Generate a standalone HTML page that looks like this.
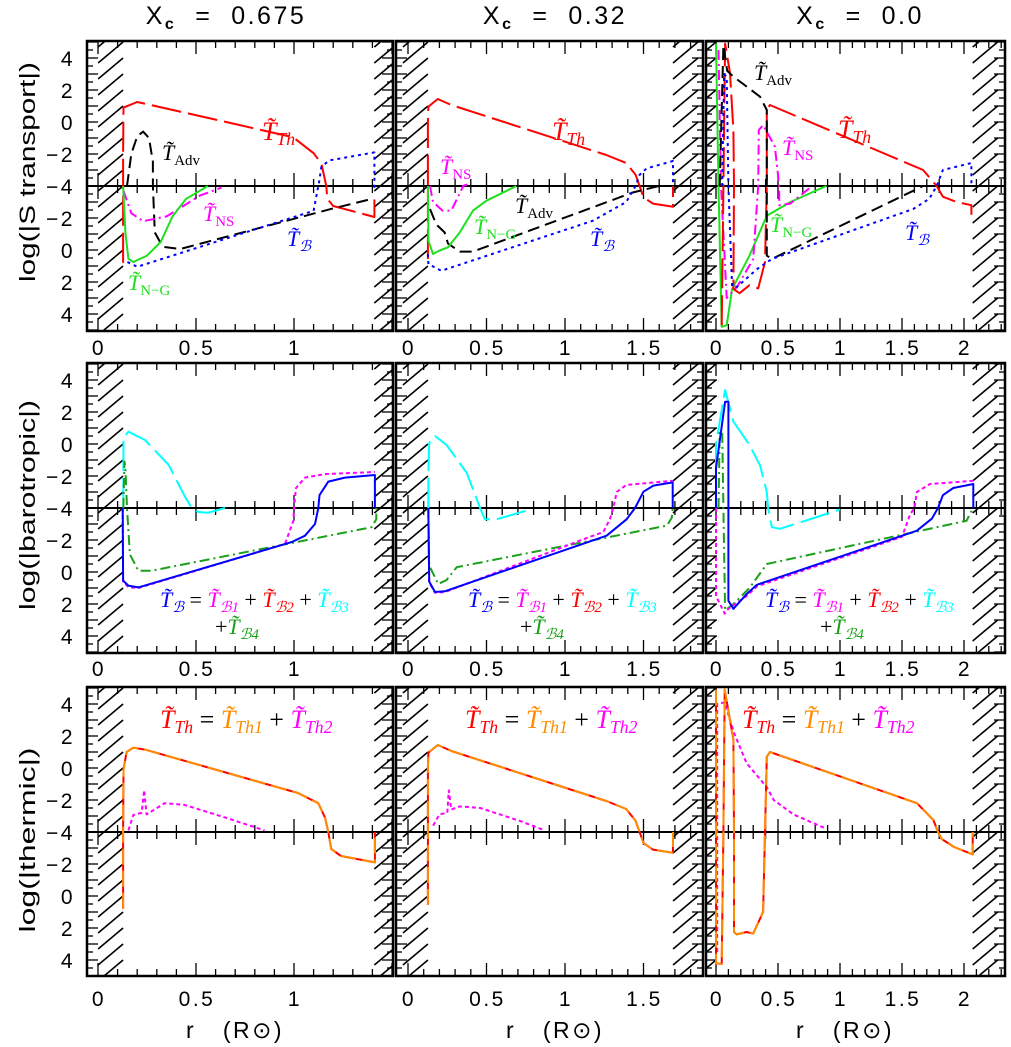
<!DOCTYPE html>
<html><head><meta charset="utf-8">
<style>
html,body{margin:0;padding:0;background:#fff;}
svg{display:block;}
text{font-family:"Liberation Sans",sans-serif;}
.lab{font-family:"Liberation Serif",serif;}
.num{letter-spacing:2.5px;}
</style></head>
<body>
<svg id="chart" width="1011" height="1047" viewBox="0 0 1011 1047" xmlns="http://www.w3.org/2000/svg">
<g id="frames"></g>
<g id="curves"></g>
<g id="texts"></g>
</svg>
<script>
// ---------- data: [r, log|value|, sign(+1 upper / -1 lower)] ----------
const th1=[[0.128,0.8,-1],[0.128,-4,-1],[0.128,-4,1],[0.128,-1.9,1],[0.13,0.9,1],[0.2,1.25,1],[0.6,0.15,1],[0.995,-0.95,1],[1.1,-1.95,1],[1.14,-2.6,1],[1.165,-4,1],[1.165,-4,-1],[1.17,-3.2,-1],[1.2,-2.75,-1],[1.41,-2.06,-1],[1.41,-3.4,-1]];
const adv1=[[0.148,-4,1],[0.17,-2,1],[0.2,-0.9,1],[0.23,-0.6,1],[0.26,-1.0,1],[0.28,-2.5,1],[0.28,-4,1],[0.28,-4,-1],[0.29,-1.1,-1],[0.33,-0.2,-1],[0.42,-0.06,-1],[0.8,-1.3,-1],[1.2,-2.6,-1],[1.4,-3.2,-1]];
const ns1=[[0.13,-3.7,-1],[0.17,-2.3,-1],[0.23,-1.8,-1],[0.35,-2.1,-1],[0.52,-3.4,-1],[0.63,-3.9,-1]];
const ng1=[[0.128,-4,-1],[0.14,-1.1,-1],[0.155,0.55,-1],[0.18,0.75,-1],[0.25,0.35,-1],[0.32,-0.5,-1],[0.38,-2.1,-1],[0.45,-3.2,-1],[0.56,-4,-1]];
const tb1=[[0.15,0.75,-1],[0.2,1.05,-1],[1.1,-2.45,-1],[1.12,-3.75,-1],[1.125,-4,1],[1.14,-2.8,1],[1.18,-2.4,1],[1.41,-1.9,1],[1.41,-4,1],[1.41,-4,-1],[1.41,-3.7,-1]];

const th2=[[0.127,0.56,-1],[0.127,-4,-1],[0.127,-4,1],[0.127,0,1],[0.13,0.96,1],[0.19,1.44,1],[0.276,1.06,1],[1.263,-2.06,1],[1.39,-2.56,1],[1.45,-3.3,1],[1.475,-4,1],[1.475,-4,-1],[1.5,-3.3,-1],[1.56,-2.9,-1],[1.688,-2.7,-1],[1.688,-4,-1]];
const tb2=[[0.127,0.25,-1],[0.13,0.88,-1],[0.212,1.3,-1],[1.178,-1.83,-1],[1.39,-3.0,-1],[1.45,-4,-1],[1.45,-4,1],[1.475,-3.3,1],[1.52,-2.9,1],[1.688,-2.44,1],[1.688,-4,1]];
const ng2=[[0.127,-4,-1],[0.13,-0.58,-1],[0.159,0.25,-1],[0.2,0.04,-1],[0.255,-0.17,-1],[0.33,-1.1,-1],[0.414,-2.46,-1],[0.5,-3.08,-1],[0.69,-4,-1]];
const ns2=[[0.14,-4,-1],[0.159,-3,-1],[0.22,-2.46,-1],[0.276,-2.46,-1],[0.35,-3.95,-1],[0.35,-4,1],[0.38,-3.9,1]];
const adv2=[[0.14,-2.56,-1],[0.18,-1.6,-1],[0.233,-1.1,-1],[0.255,-0.4,-1],[0.33,0.1,-1],[0.414,0.1,-1],[1.433,-3.6,-1],[1.6,-4,-1]];

const th3=[[0.046,4.7,-1],[0.06,-4,-1],[0.06,-4,1],[0.073,4.9,1],[0.113,3.06,1],[0.14,-0.5,1],[0.145,-4,1],[0.145,-4,-1],[0.14,2.44,-1],[0.19,2.7,-1],[0.27,2.2,-1],[0.34,2.4,-1],[0.395,0.75,-1],[0.41,-4,-1],[0.41,-4,1],[0.41,0.75,1],[0.435,1.06,1],[1.67,-3,1],[1.78,-4,1],[1.78,-4,-1],[1.83,-3.33,-1],[1.94,-3,-1],[2.06,-2.8,-1],[2.06,-2.2,-1]];
const adv3=[[0.03,-4,1],[0.06,4.8,1],[0.09,3.2,1],[0.14,2.83,1],[0.25,2.2,1],[0.355,1.58,1],[0.41,0.75,1],[0.41,-4,1],[0.41,-4,-1],[0.41,0.35,-1],[0.45,0.56,-1],[1.59,-3.7,-1],[1.67,-4,-1]];
const tb3=[[0.05,-4,1],[0.065,3.0,1],[0.086,2.8,1],[0.1,-4,1],[0.1,-4,-1],[0.13,2.3,-1],[0.17,2.3,-1],[0.33,1.2,-1],[0.45,0.56,-1],[1.59,-2.56,-1],[1.72,-3.2,-1],[1.78,-4,-1],[1.78,-4,1],[1.83,-3,1],[2.06,-2.56,1],[2.06,-4,1]];
const ng3=[[0.0,4.9,1],[0.02,-4,1],[0.02,-4,-1],[0.046,4.8,-1],[0.086,4.7,-1],[0.13,2.44,-1],[0.27,0.35,-1],[0.41,-2.14,-1],[0.6,-3.0,-1],[0.89,-4,-1]];
const ns3=[[0.02,4.5,1],[0.04,-4,1],[0.04,-4,-1],[0.086,3,-1],[0.17,2.3,-1],[0.3,0.56,-1],[0.34,-4,-1],[0.34,-4,1],[0.345,-0.5,1],[0.38,-0.2,1],[0.475,-1.54,1],[0.51,-4,1],[0.51,-4,-1],[0.51,-2.8,-1],[0.6,-2.9,-1],[0.76,-3.9,-1]];

const cy1=[[0.129,-4,1],[0.13,0.375,1],[0.155,0.77,1],[0.24,0.25,1],[0.36,-1.3,1],[0.44,-3.2,1],[0.478,-4,1],[0.478,-4,-1],[0.512,-3.75,-1],[0.56,-3.7,-1],[0.648,-4,-1]];
const b4a=[[0.129,-4,1],[0.135,-1.1,1],[0.14,-1.5,1],[0.148,-4,1],[0.148,-4,-1],[0.163,-1.1,-1],[0.206,-0.08,-1],[0.274,-0.08,-1],[1.396,-2.8,-1],[1.42,-3.3,-1],[1.42,-4,-1]];
const bb1=[[0.126,-4,-1],[0.128,0.54,-1],[0.155,0.85,-1],[0.206,0.96,-1],[0.988,-1.87,-1],[1.056,-2.27,-1],[1.107,-3.0,-1],[1.124,-4,-1],[1.124,-4,1],[1.13,-3.2,1],[1.175,-2.35,1],[1.26,-2.1,1],[1.413,-1.94,1],[1.413,-4,1]];
const mb1=[[0.126,-4,-1],[0.128,0.6,-1],[0.155,0.95,-1],[0.206,1.0,-1],[0.954,-1.75,-1],[0.997,-3.2,-1],[1.0,-4,-1],[1.0,-4,1],[1.01,-2.75,1],[1.056,-2.1,1],[1.158,-1.88,1],[1.413,-1.75,1]];

const cy2=[[0.129,-4,1],[0.13,-1.8,1],[0.135,0.06,1],[0.172,0.5,1],[0.246,-0.06,1],[0.374,-1.8,1],[0.459,-4,1],[0.459,-4,-1],[0.49,-3.3,-1],[0.565,-3.3,-1],[0.777,-3.9,-1]];
const bb2=[[0.129,-4,-1],[0.135,0.6,-1],[0.172,1.25,-1],[0.236,1.2,-1],[1.265,-2.27,-1],[1.393,-3.3,-1],[1.446,-4,-1],[1.446,-4,1],[1.5,-2.98,1],[1.563,-2.6,1],[1.686,-2.4,1],[1.686,-4,1]];
const mb2=[[0.129,-4,-1],[0.135,0.65,-1],[0.172,1.3,-1],[0.236,1.25,-1],[1.095,-1.96,-1],[1.244,-2.5,-1],[1.286,-3.3,-1],[1.307,-4,-1],[1.307,-4,1],[1.33,-3,1],[1.39,-2.56,1],[1.686,-2.3,1]];
const b4b=[[0.129,-4,-1],[0.135,-0.4,-1],[0.193,0.75,-1],[0.246,0.5,-1],[0.31,-0.3,-1],[1.65,-2.9,-1],[1.68,-3.4,-1],[1.686,-4,-1]];

const bb3=[[0.0,-4,1],[0.0,-1.5,1],[0.073,2.64,1],[0.1,2.64,1],[0.1,-4,1],[0.1,-4,-1],[0.1,1.8,-1],[0.14,2.3,-1],[0.247,1.38,-1],[0.33,0.8,-1],[1.62,-2.58,-1],[1.74,-3.33,-1],[1.79,-4,-1],[1.79,-4,1],[1.83,-3.2,1],[1.914,-2.75,1],[2.075,-2.5,1],[2.075,-4,1]];
const mb3=[[0.0,-4,-1],[0.0,1.5,-1],[0.07,2.6,-1],[0.1,2.3,-1],[0.247,1.5,-1],[0.33,0.9,-1],[1.5,-2.2,-1],[1.565,-3.6,-1],[1.6,-4,-1],[1.6,-4,1],[1.62,-3,1],[1.726,-2.5,1],[2.075,-2.3,1]];
const b4c=[[0.02,-4,1],[0.03,0.77,1],[0.05,0.77,1],[0.06,-4,1],[0.06,-4,-1],[0.073,2.4,-1],[0.14,2.0,-1],[0.27,1.0,-1],[0.41,-0.5,-1],[2.02,-3.2,-1],[2.06,-3.8,-1],[2.06,-4,-1]];
const cy3=[[0.0,-4,1],[0.0,0.0,1],[0.073,3.375,1],[0.14,1.4,1],[0.27,-0.06,1],[0.355,-1.33,1],[0.41,-3.0,1],[0.42,-4,1],[0.42,-4,-1],[0.45,-2.8,-1],[0.516,-2.7,-1],[1.0,-3.9,-1]];

const or1=[[0.128,0.8,-1],[0.128,-4,-1],[0.128,-4,1],[0.13,-0.1,1],[0.146,1.0,1],[0.18,1.27,1],[0.24,1.15,1],[1.02,-1.56,1],[1.124,-2.2,1],[1.158,-3.1,1],[1.175,-4,1],[1.175,-4,-1],[1.19,-2.94,-1],[1.24,-2.5,-1],[1.413,-2.1,-1],[1.413,-4,-1]];
const t2a=[[0.155,-3.9,1],[0.18,-2.94,1],[0.223,-2.8,1],[0.235,-1.38,1],[0.248,-2.9,1],[0.34,-2.2,1],[0.44,-2.3,1],[0.65,-3.1,1],[0.85,-3.9,1]];
const or2=[[0.127,0.56,-1],[0.127,-4,-1],[0.127,-4,1],[0.127,0,1],[0.13,0.96,1],[0.19,1.44,1],[0.276,1.06,1],[1.263,-2.06,1],[1.39,-2.56,1],[1.45,-3.3,1],[1.475,-4,1],[1.475,-4,-1],[1.5,-3.3,-1],[1.56,-2.9,-1],[1.688,-2.7,-1],[1.688,-4,-1]];
const t2b=[[0.16,-3.6,1],[0.2,-2.9,1],[0.25,-2.8,1],[0.26,-1.4,1],[0.275,-2.6,1],[0.33,-2.4,1],[0.46,-2.5,1],[0.71,-3.3,1],[0.87,-3.9,1]];
const or3=[[0.0,4.9,1],[0.0,-4,1],[0.0,-4,-1],[0.0,4.2,-1],[0.046,4.25,-1],[0.06,-4,-1],[0.06,-4,1],[0.07,4.9,1],[0.14,1.75,1],[0.145,-4,1],[0.145,-4,-1],[0.145,2.25,-1],[0.167,2.4,-1],[0.247,2.25,-1],[0.3,2.35,-1],[0.38,1.0,-1],[0.395,-4,-1],[0.395,-4,1],[0.41,0.7,1],[0.435,1.0,1],[1.62,-2.2,1],[1.753,-3.25,1],[1.79,-4,1],[1.79,-4,-1],[1.82,-3.56,-1],[1.92,-3.06,-1],[2.07,-2.6,-1],[2.07,-4,-1]];
const t2c=[[0.01,3.5,-1],[0.01,-4,-1],[0.01,-4,1],[0.01,4.0,1],[0.07,4.1,1],[0.145,2.2,1],[0.247,0.3,1],[0.41,-1.2,1],[0.465,-2.0,1],[0.624,-2.9,1],[0.89,-3.8,1]];

const xTicksCol1=["0","0.5","1"];
const xTicksCol2=["0","0.5","1","1.5"];
const xTicksCol3=["0","0.5","1","1.5","2"];
const yTicksUpper=["4","2","0","−2","−4"];
const yTicksLower=["−2","0","2","4"];

// ---------- geometry ----------
const NS="http://www.w3.org/2000/svg";
const cols=[
 {x0:98,s:196,L:87,R:393,hl:0.128,hr:1.41,rmax:1.5,ticks:xTicksCol1},
 {x0:408,s:157,L:396,R:703,hl:0.127,hr:1.688,rmax:1.88,ticks:xTicksCol2},
 {x0:716,s:124,L:706,R:1005,hl:0.0,hr:2.07,rmax:2.33,ticks:xTicksCol3}];
const rows=[{T:41,B:331,lab:355},{T:363,B:653,lab:676},{T:687,B:976,lab:1006}];
function X(c,r){return cols[c].x0+cols[c].s*r;}
function Y(ro,L,sg){const mid=rows[ro].T+145;const v=sg>0?(L+4):-(L+4);return mid-16*v;}
function el(tag,attrs,parent){const e=document.createElementNS(NS,tag);for(const k in attrs)e.setAttribute(k,attrs[k]);parent.appendChild(e);return e;}
const F=document.getElementById('frames'),C=document.getElementById('curves'),TX=document.getElementById('texts');

const defs=el('defs',{},document.getElementById('chart'));
for(let ro=0;ro<3;ro++)for(let c=0;c<3;c++){
 const cp=el('clipPath',{id:'cp'+ro+c},defs);
 el('rect',{x:cols[c].L,y:rows[ro].T,width:cols[c].R-cols[c].L,height:rows[ro].B-rows[ro].T},cp);
}

for(let ro=0;ro<3;ro++)for(let c=0;c<3;c++){
 const cc=cols[c],rr=rows[ro],mid=rr.T+145;
 const g=el('g',{'clip-path':'url(#cp'+ro+c+')'},F);
 
 
 const xl=X(c,cc.hl),xr=X(c,cc.hr);
 for(let y=rr.T-10;y<rr.B+30;y+=16){
   el('line',{x1:xl-25,y1:y,x2:xl,y2:y-21,stroke:'#000','stroke-width':1.6},g);
   el('line',{x1:xr,y1:y,x2:xr+25,y2:y-21,stroke:'#000','stroke-width':1.6},g);
 }
 for(let v=-4;v<=5;v+=0.5){
   const big=Number.isInteger(v);const len=big?11:6;
   [Y(ro,v,1),Y(ro,v,-1)].forEach(y=>{
     if(y<rr.T||y>rr.B)return;
     el('line',{x1:cc.L,y1:y,x2:cc.L+len,y2:y,stroke:'#000','stroke-width':1.3},g);
     el('line',{x1:cc.R-len,y1:y,x2:cc.R,y2:y,stroke:'#000','stroke-width':1.3},g);
   });
 }
 for(let i=-1;i<=Math.round(cc.rmax*10);i++){
   const r=i/10,x=X(c,r);if(x<cc.L||x>cc.R)continue;
   const big=(i%5===0);const len=big?13:7;
   el('line',{x1:x,y1:rr.T,x2:x,y2:rr.T+len,stroke:'#000','stroke-width':1.3},g);
   el('line',{x1:x,y1:rr.B-len,x2:x,y2:rr.B,stroke:'#000','stroke-width':1.3},g);
   el('line',{x1:x,y1:mid-len,x2:x,y2:mid+len,stroke:'#000','stroke-width':1.3},g);
 }
 el('line',{x1:cc.L,y1:mid,x2:cc.R,y2:mid,stroke:'#000','stroke-width':2},g);
 const fr=el('rect',{x:cc.L,y:rr.T,width:cc.R-cc.L,height:rr.B-rr.T,fill:'none',stroke:'#000','stroke-width':2.5},F);
 
 
 cc.ticks.forEach(t=>{
   const tt=el('text',{x:X(c,parseFloat(t))+1,y:rr.lab,'font-size':21,'text-anchor':'middle',class:'num'},TX);
   tt.textContent=t;
   
   
 });
}
for(let ro=0;ro<3;ro++){
 yTicksUpper.forEach(t=>{const v=parseFloat(t.replace('−','-'));
   const tt=el('text',{x:75,y:Y(ro,v,1)+8,'font-size':21,'text-anchor':'end',class:'num'},TX);tt.textContent=t;
   
   });
 yTicksLower.forEach(t=>{const v=parseFloat(t.replace('−','-'));
   const tt=el('text',{x:75,y:Y(ro,v,-1)+8,'font-size':21,'text-anchor':'end',class:'num'},TX);tt.textContent=t;
   
   });
}

function curve(ro,c,data,color,dash,name,w){
 const d=data.map((p,i)=>(i?'L':'M')+X(c,p[0]).toFixed(1)+' '+Y(ro,p[1],p[2]).toFixed(1)).join(' ');
 const p=el('path',{d:d,fill:'none',stroke:color,'stroke-width':w||2,'stroke-dasharray':dash||'none','stroke-linejoin':'round','clip-path':'url(#cp'+ro+c+')'},C);
 
 
}
const RED='#f00',BLK='#000',MAG='#f0f',GRN='#1ee01e',BLU='#00f',CYN='#0ff',DGR='#1aa01a',ORG='#ff8c00';
const LD='30 7',DS='12 6',DD='10 4 2 4',DT='3 4',MD='4 3';
curve(0,0,th1,RED,LD,'curve-th-col1');curve(0,0,adv1,BLK,DS,'curve-adv-col1');curve(0,0,ns1,MAG,DD,'curve-ns-col1');curve(0,0,ng1,GRN,null,'curve-ng-col1');curve(0,0,tb1,BLU,DT,'curve-b-col1');
curve(0,1,th2,RED,LD,'curve-th-col2');curve(0,1,adv2,BLK,DS,'curve-adv-col2');curve(0,1,ns2,MAG,DD,'curve-ns-col2');curve(0,1,ng2,GRN,null,'curve-ng-col2');curve(0,1,tb2,BLU,DT,'curve-b-col2');
curve(0,2,ng3,GRN,null,'curve-ng-col3');curve(0,2,ns3,MAG,DD,'curve-ns-col3');curve(0,2,th3,RED,LD,'curve-th-col3');curve(0,2,adv3,BLK,DS,'curve-adv-col3');curve(0,2,tb3,BLU,DT,'curve-b-col3');
curve(1,0,cy1,CYN,LD,'curve-b3-col1');curve(1,0,b4a,DGR,DD,'curve-b4-col1');curve(1,0,mb1,MAG,MD,'curve-b1-col1');curve(1,0,bb1,BLU,null,'curve-b-col1');
curve(1,1,cy2,CYN,LD,'curve-b3-col2');curve(1,1,b4b,DGR,DD,'curve-b4-col2');curve(1,1,mb2,MAG,MD,'curve-b1-col2');curve(1,1,bb2,BLU,null,'curve-b-col2');
curve(1,2,cy3,CYN,LD,'curve-b3-col3');curve(1,2,b4c,DGR,DD,'curve-b4-col3');curve(1,2,mb3,MAG,MD,'curve-b1-col3');curve(1,2,bb3,BLU,null,'curve-b-col3');
[[or1,t2a,0],[or2,t2b,1],[or3,t2c,2]].forEach(a=>{
 curve(2,a[2],a[1],MAG,MD,'curve-th2-col'+(a[2]+1));
 curve(2,a[2],a[0],RED,null,'curve-th-col'+(a[2]+1));
 curve(2,a[2],a[0],ORG,'16 6','curve-th1-col'+(a[2]+1));
});

const T='T\u0303';
function lab(x,y,parts,size,name){
 const t=el('text',{x:x,y:y,'font-size':size||22,class:'lab'},TX);
 
 
 parts.forEach(p=>{
   const ts=el('tspan',{fill:p[0]},t);
   if(p[2]==='main'){ts.setAttribute('font-style','italic');}
   if(p[2]==='sub'||p[2]==='subi'){ts.setAttribute('font-size',(size||22)*0.68);ts.setAttribute('dy',5);if(p[2]==='subi')ts.setAttribute('font-style','italic');}
   if(p[2]==='up'){ts.setAttribute('dy',-5);}
   ts.textContent=p[1];
 });
}
lab(262,140,[[RED,T,'main'],[RED,'Th','subi']],26,'label-th');
lab(162,160,[[BLK,T,'main'],[BLK,'Adv','sub']],22,'label-adv');
lab(203,221,[[MAG,T,'main'],[MAG,'NS','sub']],22,'label-ns');
lab(287,246,[[BLU,T,'main'],[BLU,'ℬ','subi']],22,'label-b');
lab(128,290,[[GRN,T,'main'],[GRN,'N−G','sub']],22,'label-ng');
lab(552,140,[[RED,T,'main'],[RED,'Th','subi']],26,'label-th');
lab(440,174,[[MAG,T,'main'],[MAG,'NS','sub']],22,'label-ns');
lab(515,213,[[BLK,T,'main'],[BLK,'Adv','sub']],22,'label-adv');
lab(474,234,[[GRN,T,'main'],[GRN,'N−G','sub']],22,'label-ng');
lab(590,246,[[BLU,T,'main'],[BLU,'ℬ','subi']],22,'label-b');
lab(754,80,[[BLK,T,'main'],[BLK,'Adv','sub']],22,'label-adv');
lab(838,138,[[RED,T,'main'],[RED,'Th','subi']],26,'label-th');
lab(782,155,[[MAG,T,'main'],[MAG,'NS','sub']],22,'label-ns');
lab(770,232,[[GRN,T,'main'],[GRN,'N−G','sub']],22,'label-ng');
lab(905,240,[[BLU,T,'main'],[BLU,'ℬ','subi']],22,'label-b');
[[160,215],[468,520],[765,820]].forEach(p=>{
 lab(p[0],607,[[BLU,T,'main'],[BLU,'ℬ','subi'],[BLK,' = ','up'],[MAG,T,'main'],[MAG,'ℬ1','subi'],[BLK,' + ','up'],[RED,T,'main'],[RED,'ℬ2','subi'],[BLK,' + ','up'],[CYN,T,'main'],[CYN,'ℬ3','subi']],22,'legend-barotropic');
 lab(p[1],634,[[BLK,'+'],[DGR,T,'main'],[DGR,'ℬ4','subi']],22,'legend-barotropic-b4');
});
[160,465,742].forEach(x=>{
 lab(x,728,[[RED,T,'main'],[RED,'Th','subi'],[BLK,' = ','up'],[ORG,T,'main'],[ORG,'Th1','subi'],[BLK,' + ','up'],[MAG,T,'main'],[MAG,'Th2','subi']],26,'legend-thermic');
});
[[226,'0.675'],[555,'0.32'],[860,'0.0']].forEach(p=>{
 const t=el('text',{x:p[0],y:24,'font-size':25,'text-anchor':'middle',class:'num'},TX);
 
 
 const a=el('tspan',{},t);a.textContent='X';
 const b=el('tspan',{'font-size':16,dy:5,'font-weight':'bold'},t);b.textContent='c';
 const d=el('tspan',{dy:-5},t);d.textContent='\u00a0\u00a0=\u00a0\u00a0'+p[1];
});
[235,555,845].forEach(x=>{
 const t=el('text',{x:x,y:1038,'font-size':23,'text-anchor':'middle',class:'num'},TX);
 
 
 t.textContent='r\u00a0\u00a0\u00a0(R⊙)';
});
[['log(|S transport|)',172,220],['log(|barotropic|)',505,210],['log(|thermic|)',840,185]].forEach(p=>{
 const t=el('text',{x:0,y:0,'font-size':22,'text-anchor':'middle',transform:'translate(35,'+p[1]+') rotate(-90)',textLength:p[2],lengthAdjust:'spacingAndGlyphs'},TX);
 
 
 t.textContent=p[0];
});
</script>
</body></html>
